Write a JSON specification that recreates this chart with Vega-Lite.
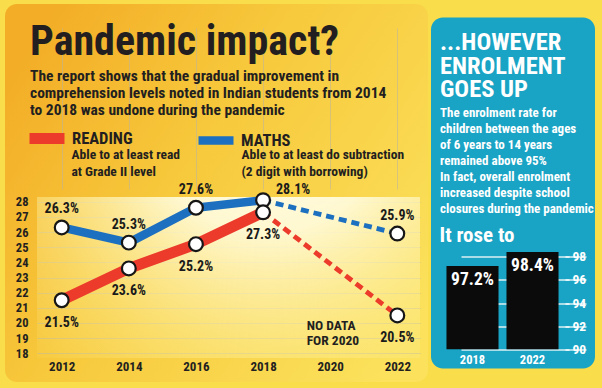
{
  "$schema": "https://vega.github.io/schema/vega-lite/v6.json",
  "background": "#f9dd4a",
  "padding": {"left": 5, "top": 4, "right": 7, "bottom": 6},
  "spacing": 3,
  "center": true,
  "bounds": "flush",
  "datasets": {
    "scores": [
      {"series": "Maths", "year": 2012, "value": 0.263},
      {"series": "Maths", "year": 2014, "value": 0.253},
      {"series": "Maths", "year": 2016, "value": 0.276},
      {"series": "Maths", "year": 2018, "value": 0.281},
      {"series": "Maths", "year": 2022, "value": 0.259},
      {"series": "Reading", "year": 2012, "value": 0.215},
      {"series": "Reading", "year": 2014, "value": 0.236},
      {"series": "Reading", "year": 2016, "value": 0.252},
      {"series": "Reading", "year": 2018, "value": 0.273},
      {"series": "Reading", "year": 2022, "value": 0.205}
    ],
    "info": [
      {"series": "Reading", "desc": "Able to at least read|at Grade II level"},
      {"series": "Maths", "desc": "Able to at least do subtraction|(2 digit with borrowing)"}
    ],
    "enrolment": [
      {"year": "2018", "rate": 0.972},
      {"year": "2022", "rate": 0.984}
    ]
  },
  "config": {
    "font": "Roboto Condensed, Noto Sans Condensed, DejaVu Sans Condensed, sans-serif",
    "view": {"stroke": null},
    "axis": {"labelFont": "Roboto Condensed, Noto Sans Condensed, DejaVu Sans Condensed, sans-serif", "labelFontWeight": "bold", "domain": false, "labelOverlap": false},
    "legend": {"labelFont": "Roboto Condensed, Noto Sans Condensed, DejaVu Sans Condensed, sans-serif"},
    "text": {"font": "Roboto Condensed, Noto Sans Condensed, DejaVu Sans Condensed, sans-serif"},
    "style": {"guide-label": {"lineHeight": 17}}
  },
  "hconcat": [
    {
      "width": 423,
      "height": 378,
      "view": {
        "cornerRadius": 12,
        "stroke": null,
        "fill": {
          "gradient": "linear", "x1": 0, "y1": 0.2, "x2": 1, "y2": 0.8,
          "stops": [
            {"offset": 0, "color": "#f3ad27"},
            {"offset": 0.4, "color": "#f7c83b"},
            {"offset": 1, "color": "#fbe15c"}
          ]
        }
      },
      "title": {
        "text": "Pandemic impact?",
        "subtitle": [
          "The report shows that the gradual improvement in",
          "comprehension levels noted in Indian students from 2014",
          "to 2018 was undone during the pandemic"
        ],
        "anchor": "start",
        "frame": "group",
        "orient": "top",
        "offset": -116,
        "dx": 25,
        "font": "Roboto Condensed, Noto Sans Condensed, DejaVu Sans Condensed, sans-serif",
        "fontSize": 42,
        "fontWeight": "bold",
        "color": "#231f20",
        "subtitleFont": "Roboto Condensed, Noto Sans Condensed, DejaVu Sans Condensed, sans-serif",
        "subtitleFontSize": 15.5,
        "subtitleFontWeight": "bold",
        "subtitleColor": "#231f20",
        "subtitleLineHeight": 17.3,
        "subtitlePadding": 5
      },
      "data": {"name": "scores"},
      "layer": [
        {
          "data": {"values": [{}]},
          "mark": {
            "type": "rect",
            "stroke": null,
            "fill": {
              "gradient": "radial", "x1": 0.6, "y1": 0.05, "r1": 0, "x2": 0.6, "y2": 0.05, "r2": 0.95,
              "stops": [
                {"offset": 0, "color": "rgba(255,255,248,1)"},
                {"offset": 0.35, "color": "rgba(255,250,215,0.95)"},
                {"offset": 0.7, "color": "rgba(253,238,150,0.45)"},
                {"offset": 1, "color": "rgba(252,232,120,0)"}
              ]
            }
          },
          "encoding": {
            "x": {
              "datum": 2011.264, "type": "quantitative",
              "scale": {"domain": [2011.264, 2022.676], "range": [32, 415], "nice": false, "zero": false},
              "axis": {
                "values": [2012, 2014, 2016, 2018, 2020, 2022], "tickCount": 12, "format": "d", "title": null,
                "grid": true, "gridColor": "#b9b4a0", "gridOpacity": 0.55, "gridWidth": 1,
                "ticks": false, "domain": false, "labelPadding": 0, "offset": -22,
                "labelFontSize": 13, "labelColor": "#231f20"
              }
            },
            "x2": {"datum": 2022.676},
            "y": {
              "datum": 0.2831, "type": "quantitative",
              "scale": {"domain": [0.1769, 0.2831], "range": [354, 193], "nice": false, "zero": false},
              "axis": {
                "values": [0.18, 0.19, 0.2, 0.21, 0.22, 0.23, 0.24, 0.25, 0.26, 0.27, 0.28],
                "tickCount": 20,
                "labelExpr": "format(datum.value*100, 'd')", "title": null,
                "grid": true, "gridColor": "#b9b4a0", "gridOpacity": 0.55, "gridWidth": 1,
                "ticks": false, "domain": false, "labelPadding": 0, "offset": -23,
                "labelFontSize": 12.5, "labelColor": "#231f20", "labelOverlap": false
              }
            },
            "y2": {"datum": 0.1769}
          }
        },
        {
          "transform": [{"filter": "datum.year <= 2018"}],
          "mark": {"type": "line", "strokeCap": "round", "strokeJoin": "round"},
          "encoding": {
            "x": {"field": "year", "type": "quantitative"},
            "y": {"field": "value", "type": "quantitative"},
            "color": {
              "field": "series", "type": "nominal",
              "scale": {"domain": ["Reading", "Maths"], "range": ["#ec3b2b", "#1d6fc0"]},
              "legend": {
                "title": null, "orient": "none", "legendX": 19, "legendY": 111.5,
                "direction": "horizontal", "columns": 2, "columnPadding": 48,
                "symbolType": "stroke", "symbolSize": 1225, "symbolStrokeWidth": 10, "symbolDash": [1, 0],
                "labelFontSize": 16.5, "labelFontWeight": "bold", "labelColor": "#231f20",
                "labelOffset": 2, "labelExpr": "upper(datum.label)", "padding": 0
              }
            },
            "strokeWidth": {
              "field": "series", "type": "nominal",
              "scale": {"domain": ["Reading", "Maths"], "range": [11, 8.5]},
              "legend": null
            }
          }
        },
        {
          "transform": [{"filter": "datum.year >= 2018"}],
          "mark": {"type": "line", "strokeDash": [8, 5], "strokeWidth": 4.8},
          "encoding": {
            "x": {"field": "year", "type": "quantitative"},
            "y": {"field": "value", "type": "quantitative"},
            "color": {"field": "series", "type": "nominal"}
          }
        },
        {
          "transform": [{"lookup": "series", "from": {"data": {"name": "info"}, "key": "series", "fields": ["desc"]}}],
          "mark": {"type": "point", "filled": true, "fill": "white", "stroke": "#161616", "strokeWidth": 2.2, "size": 190, "opacity": 1},
          "encoding": {
            "x": {"field": "year", "type": "quantitative"},
            "y": {"field": "value", "type": "quantitative"},
            "shape": {
              "field": "desc", "type": "nominal",
              "scale": {
                "domain": ["Able to at least read|at Grade II level", "Able to at least do subtraction|(2 digit with borrowing)"],
                "range": ["circle", "circle"]
              },
              "legend": {
                "title": null, "orient": "none", "legendX": 53, "legendY": 143.5,
                "direction": "horizontal", "columns": 2, "columnPadding": 47,
                "symbolSize": 0, "symbolOpacity": 0, "symbolStrokeWidth": 0,
                "labelOffset": 0, "labelFontSize": 13.5, "labelFontWeight": "bold",
                "labelColor": "#231f20", "labelLimit": 300,
                "labelExpr": "split(datum.label, '|')", "padding": 0
              }
            }
          }
        },
        {
          "transform": [{"filter": "datum.series == 'Reading'"}],
          "mark": {"type": "text", "dy": 23, "fontSize": 14, "fontWeight": "bold", "color": "#1a1a1a"},
          "encoding": {
            "x": {"field": "year", "type": "quantitative"},
            "y": {"field": "value", "type": "quantitative"},
            "text": {"field": "value", "format": ".1%"}
          }
        },
        {
          "transform": [{"filter": "datum.series == 'Maths' && datum.year != 2018"}],
          "mark": {"type": "text", "dy": -18, "fontSize": 14, "fontWeight": "bold", "color": "#1a1a1a"},
          "encoding": {
            "x": {"field": "year", "type": "quantitative"},
            "y": {"field": "value", "type": "quantitative"},
            "text": {"field": "value", "format": ".1%"}
          }
        },
        {
          "transform": [{"filter": "datum.series == 'Maths' && datum.year == 2018"}],
          "mark": {"type": "text", "dx": 30, "dy": -10, "fontSize": 14, "fontWeight": "bold", "color": "#1a1a1a"},
          "encoding": {
            "x": {"field": "year", "type": "quantitative"},
            "y": {"field": "value", "type": "quantitative"},
            "text": {"field": "value", "format": ".1%"}
          }
        },
        {
          "data": {"values": [{}]},
          "mark": {"type": "text", "align": "left", "baseline": "middle", "fontSize": 13.5, "fontWeight": "bold", "lineHeight": 14.5, "color": "#231f20"},
          "encoding": {
            "x": {"datum": 2019.3, "type": "quantitative"},
            "y": {"datum": 0.198, "type": "quantitative"},
            "text": {"value": ["NO DATA", "FOR 2020"]}
          }
        }
      ]
    },
    {
      "width": 164,
      "height": 351,
      "view": {"fill": "#19a3c4", "cornerRadius": 12, "stroke": null},
      "title": {
        "text": ["...HOWEVER", "ENROLMENT", "GOES UP"],
        "subtitle": [
          "The enrolment rate for",
          "children between the ages",
          "of 6 years to 14 years",
          "remained above 95%",
          "In fact, overall enrolment",
          "increased despite school",
          "closures during the pandemic"
        ],
        "anchor": "start",
        "frame": "group",
        "orient": "top",
        "offset": -199,
        "dx": 9,
        "font": "Roboto Condensed, Noto Sans Condensed, DejaVu Sans Condensed, sans-serif",
        "fontSize": 24.5,
        "fontWeight": "bold",
        "lineHeight": 23.3,
        "color": "white",
        "subtitleFont": "Roboto Condensed, Noto Sans Condensed, DejaVu Sans Condensed, sans-serif",
        "subtitleFontSize": 13,
        "subtitleFontWeight": "bold",
        "subtitleColor": "white",
        "subtitleLineHeight": 16,
        "subtitlePadding": 4
      },
      "data": {"name": "enrolment"},
      "layer": [
        {
          "mark": {"type": "bar", "color": "#0b0b0b"},
          "encoding": {
            "x": {
              "field": "year", "type": "nominal",
              "scale": {"range": [9, 134], "paddingInner": 0.133, "paddingOuter": 0.108},
              "axis": {
                "title": null, "labelAngle": 0, "ticks": false, "domain": false,
                "labelColor": "white", "labelFontSize": 12.5, "offset": -15.5, "labelPadding": 0
              }
            },
            "y": {
              "field": "rate", "type": "quantitative",
              "scale": {"domain": [0.9, 0.98], "range": [331.8, 239.2], "nice": false, "zero": false},
              "axis": {
                "orient": "right", "values": [0.9, 0.92, 0.94, 0.96, 0.98], "tickCount": 10,
                "labelExpr": "format(datum.value*100, 'd')", "title": null,
                "grid": true, "gridColor": "white", "gridWidth": 1.3, "gridOpacity": 0.85,
                "ticks": true, "tickColor": "white", "tickSize": 4, "tickWidth": 1.3,
                "domain": false, "offset": -30, "labelPadding": 3,
                "labelColor": "white", "labelFontSize": 13.5
              }
            },
            "y2": {"datum": 0.9}
          }
        },
        {
          "mark": {"type": "text", "color": "white", "baseline": "top", "dy": 5, "fontSize": 17.5, "fontWeight": "bold"},
          "encoding": {
            "x": {"field": "year", "type": "nominal"},
            "y": {"field": "rate", "type": "quantitative"},
            "text": {"field": "rate", "format": ".1%"}
          }
        },
        {
          "data": {"values": [{}]},
          "mark": {"type": "text", "align": "left", "baseline": "middle", "dx": -33, "fontSize": 21, "fontWeight": "bold", "color": "white"},
          "encoding": {
            "x": {"datum": "2018", "type": "nominal"},
            "y": {"datum": 0.9983, "type": "quantitative"},
            "text": {"value": "It rose to"}
          }
        }
      ]
    }
  ]
}
